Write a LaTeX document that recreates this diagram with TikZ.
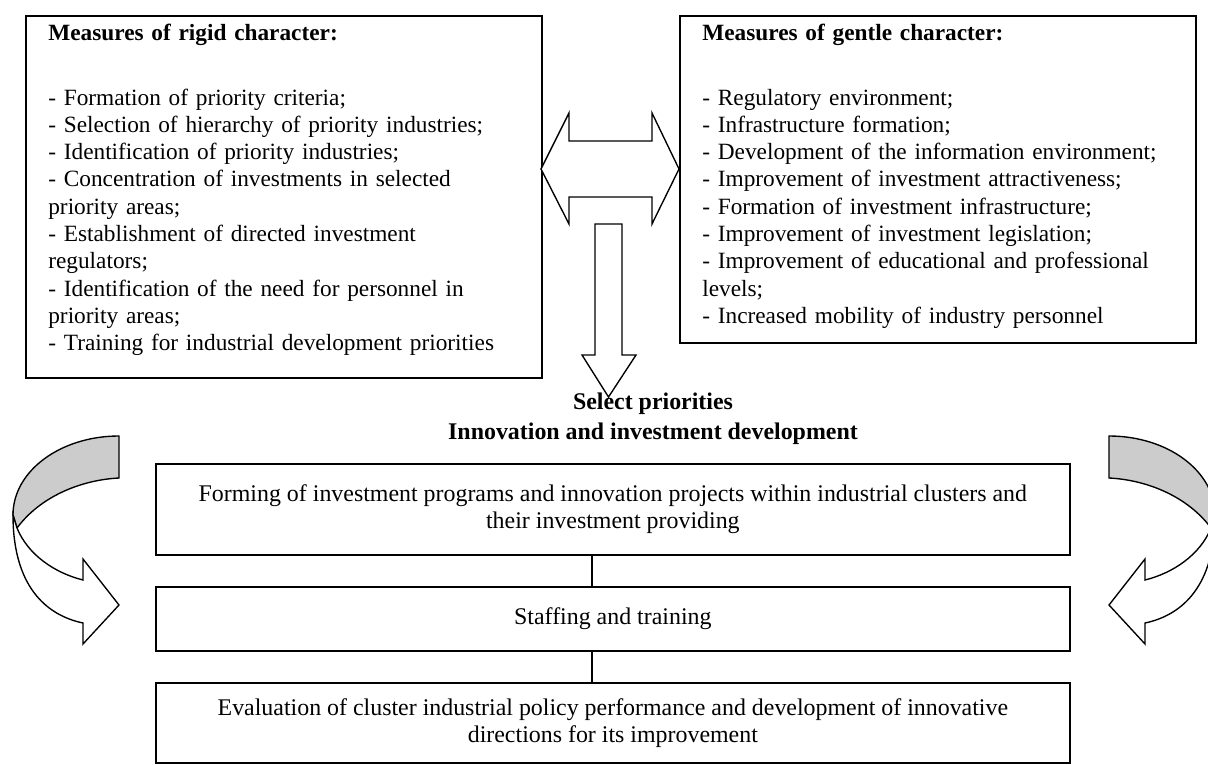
\documentclass[tikz,border=0pt]{standalone}
\usepackage{fontspec}
\setmainfont{Liberation Serif}
\newcommand{\px}{0.5858pt}
\definecolor{band}{gray}{0.8}
\tikzset{
 frame/.style={draw, line width=1pt, inner sep=0pt, anchor=north west},
 list/.style={align=left, text width=490*\px, inner sep=0pt, anchor=base west, font=\fontsize{13.65}{16}\selectfont},
 stage/.style={frame, align=center, minimum width=914*\px, font=\fontsize{14}{16}\selectfont},
 block/.style={draw, fill=white, line width=0.8pt, line join=miter}
}
\newcommand{\bendarrow}[2]{
 \begin{scope}[shift={(#1,436)}, xscale=#2]
  \draw[block, fill=band] (0,0) .. controls (-58.5,0) and (-106,35) .. (-106,79) -- (-102,92) .. controls (-79,61) and (-39,44) .. (0,42) -- cycle;
  \draw[block] (-106,79) .. controls (-106,149) and (-74,179) .. (-36,187) -- (-36,208) -- (0,169) -- (-36,123) -- (-36,144) .. controls (-64,137) and (-91,119) .. (-102,92) -- cycle;
 \end{scope}}

\begin{document}
\begin{tikzpicture}[x=\px, y=-\px]
\useasboundingbox (0,0) rectangle (1208,765);
\clip (0,0) rectangle (1208,765);
\node[frame, minimum width=516*\px, minimum height=362*\px] (rigid) at (25,15) {};
\node[frame, minimum width=516*\px, minimum height=327*\px] (gentle) at (679,15) {};
\node[list] (rigidlist) at (48,41) {\textbf{Measures of rigid character:}\\[21.5pt]
 - Formation of priority criteria;\\
 - Selection of hierarchy of priority industries;\\
 - Identification of priority industries;\\
 - Concentration of investments in selected\\
 priority areas;\\
 - Establishment of directed investment\\
 regulators;\\
 - Identification of the need for personnel in\\
 priority areas;\\
 - Training for industrial development priorities};
\node[list] (gentlelist) at (702,41) {\textbf{Measures of gentle character:}\\[21.5pt]
 - Regulatory environment;\\
 - Infrastructure formation;\\
 - Development of the information environment;\\
 - Improvement of investment attractiveness;\\
 - Formation of investment infrastructure;\\
 - Improvement of investment legislation;\\
 - Improvement of educational and professional\\
 levels;\\
 - Increased mobility of industry personnel};
\draw[block] (541,169) -- (569,113) -- (569,141) -- (652,141) -- (652,113) -- (679,169) -- (652,224) -- (652,197) -- (569,197) -- (569,224) -- cycle;
\draw[block] (595,224) -- (622,224) -- (622,355) -- (636,355) -- (608.5,397) -- (582,355) -- (595,355) -- cycle;
\node[font=\bfseries\fontsize{14}{16}\selectfont, align=center, anchor=base, inner sep=0pt] (heading) at (653,439) {Select priorities\\[1pt]Innovation and investment development};
\node[stage, minimum height=91*\px] (forming) at (155,463) {Forming of investment programs and innovation projects within industrial clusters and\\their investment providing};
\node[stage, minimum height=64*\px] (staffing) at (155,586) {Staffing and training};
\node[stage, minimum height=80*\px] (evaluation) at (155,682) {Evaluation of cluster industrial policy performance and development of innovative\\directions for its improvement};
\coordinate (axis) at (592,0);
\draw[line width=0.9pt] (forming.south -| axis) -- (staffing.north -| axis) (staffing.south -| axis) -- (evaluation.north -| axis);
\bendarrow{119}{1}
\bendarrow{1109}{-1}
\end{tikzpicture}
\end{document}
